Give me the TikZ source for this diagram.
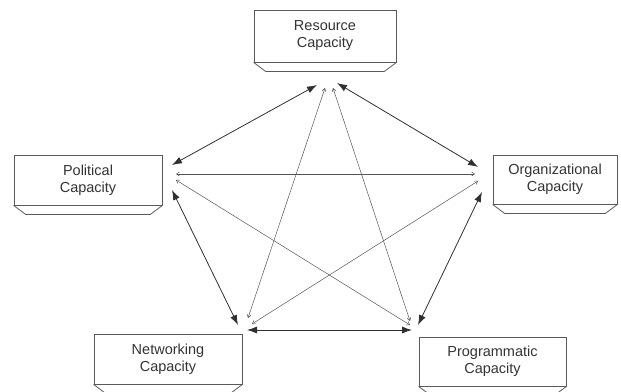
\documentclass[tikz,border=0pt]{standalone}
\usepackage{fontspec}
\setmainfont{Liberation Sans}
\usetikzlibrary{arrows.meta,calc}
\definecolor{boxgray}{HTML}{5A5A5A}
\definecolor{txtgray}{HTML}{333333}
\definecolor{arrgray}{HTML}{303030}
\definecolor{lightgray}{HTML}{555555}
\begin{document}
\begin{tikzpicture}[x=1pt,y=-1pt,
  capbox/.style={draw=boxgray, line width=0.8pt, align=center,
    font=\fontsize{14.5}{17}\selectfont, text=txtgray, inner sep=0pt,
    minimum height=50pt},
  bevelline/.style={draw=boxgray, line width=0.8pt},
  strongarrow/.style={draw=arrgray, line width=0.8pt,
    {Latex[length=10pt,width=7pt]}-{Latex[length=10pt,width=7pt]}},
  lightarrow/.style={draw=lightgray, line width=0.5pt,
    {Straight Barb[length=3pt,width=4pt]}-{Straight Barb[length=3pt,width=4pt]}}
]
\useasboundingbox (0,0) rectangle (621,391);

% boxes
\node[capbox, minimum width=142pt, minimum height=52pt] (R) at (325,36) {Resource\\Capacity};
\node[capbox, minimum width=148pt] (P) at (88,180) {Political\\Capacity};
\node[capbox, minimum width=124pt, minimum height=49pt] (O) at (555,179.5) {Organizational\\Capacity};
\node[capbox, minimum width=148pt] (N) at (168,359) {Networking\\Capacity};
\node[capbox, minimum width=147pt, minimum height=49pt] (G) at (492.5,361.5) {Programmatic\\Capacity};

% bevels
\foreach \b in {R,P,O,N,G}{
  \draw[bevelline] (\b.south west) -- ([xshift=12pt,yshift=-9pt]\b.south west)
    -- ([xshift=-12pt,yshift=-9pt]\b.south east) -- (\b.south east);
}

% connector end points
\coordinate (rP) at (317,85);
\coordinate (rN) at (325,88);
\coordinate (rG) at (333,88);
\coordinate (rO) at (337,83);
\coordinate (pR) at (172,165);
\coordinate (pO) at (176,174);
\coordinate (pG) at (176,180);
\coordinate (pN) at (172,190);
\coordinate (oR) at (478,167);
\coordinate (oP) at (475,174);
\coordinate (oN) at (478,181);
\coordinate (oG) at (482,192);
\coordinate (nR) at (248,318);
\coordinate (nO) at (252,324);
\coordinate (nP) at (238,325);
\coordinate (nG) at (247,330);
\coordinate (gR) at (410,321);
\coordinate (gP) at (410,325);
\coordinate (gO) at (418,325);
\coordinate (gN) at (412,330);

% pentagon edges
\draw[strongarrow] (rP) -- (pR);
\draw[strongarrow] (rO) -- (oR);
\draw[strongarrow] (pN) -- (nP);
\draw[strongarrow] (oG) -- (gO);
\draw[strongarrow] (nG) -- (gN);
% star diagonals
\draw[lightarrow] (pO) -- (oP);
\draw[lightarrow] (rN) -- (nR);
\draw[lightarrow] (rG) -- (gR);
\draw[lightarrow] (pG) -- (gP);
\draw[lightarrow] (oN) -- (nO);
\end{tikzpicture}
\end{document}
